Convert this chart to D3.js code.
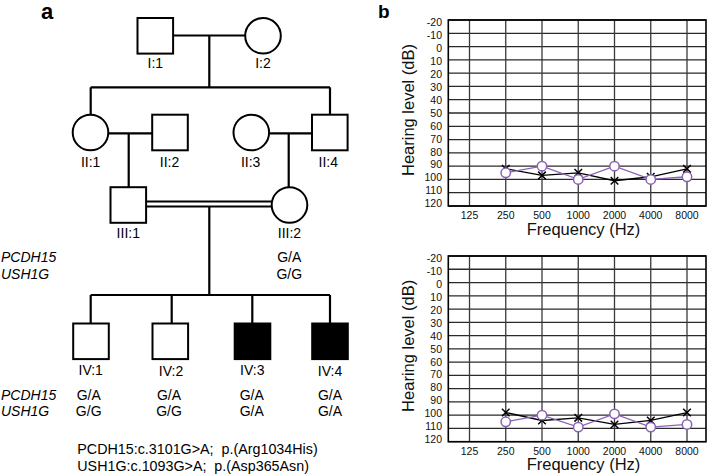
<!DOCTYPE html>
<html><head><meta charset="utf-8">
<script src="https://cdn.jsdelivr.net/npm/d3@7/dist/d3.min.js"></script>
<style>
html,body{margin:0;padding:0;background:#fff;}
svg{display:block;font-family:"Liberation Sans",Arial,sans-serif;}
</style></head>
<body>
<svg id="fig" width="709" height="476"></svg>
<script>
// ---------- DATA ----------
// Pedigree
const pedigreeIds      = ["I:1","I:2","II:1","II:2","II:3","II:4","III:1","III:2","IV:1","IV:2","IV:3","IV:4"];
const pedigreeSex      = ["M","F","F","M","F","M","M","F","M","M","M","M"];
const pedigreeAffected = [0,0,0,0,0,0,0,0,0,0,1,1];
const genotypedIds     = ["III:2","IV:1","IV:2","IV:3","IV:4"];
const genotypePCDH15   = ["G/A","G/A","G/A","G/A","G/A"];
const genotypeUSH1G    = ["G/G","G/G","G/G","G/A","G/A"];
const geneNames        = ["PCDH15","USH1G"];
const variantLines     = ["PCDH15:c.3101G>A;  p.(Arg1034His)","USH1G:c.1093G>A;  p.(Asp365Asn)"];

// Audiograms
const frequencies   = ["125","250","500","1000","2000","4000","8000"];
const dbTicks       = [-20,-10,0,10,20,30,40,50,60,70,80,90,100,110,120];
const testedFreqs   = ["250","500","1000","2000","4000","8000"];
const top_rightEar  = [95, 90, 100, 90, 100, 98];   // purple circles
const top_leftEar   = [92, 97, 95, 101, 98, 92];    // black crosses
const bot_rightEar  = [105, 100, 109, 99, 109, 107];
const bot_leftEar   = [98, 104, 102, 107, 104, 98];

// ---------- LAYOUT (positions only) ----------
const layout = {
  "I:1":[155.3,35.8],"I:2":[263,35.8],
  "II:1":[90.5,132.5],"II:2":[170,132.5],"II:3":[251.3,132.5],"II:4":[329.8,132.5],
  "III:1":[128.3,205],"III:2":[289.5,205],
  "IV:1":[91,341.3],"IV:2":[170.3,341.3],"IV:3":[252.5,341.3],"IV:4":[330,341.3]
};
const half = 17.8;
const svg = d3.select("#fig");
const PURPLE = "#8c62b4";

// ---------- PANEL A : pedigree ----------
const pa = svg.append("g");
function seg(x1,y1,x2,y2){ pa.append("line").attr("x1",x1).attr("y1",y1).attr("x2",x2).attr("y2",y2)
  .attr("stroke","#000").attr("stroke-width",2.2); }
const P = id => layout[id];

// generation I
seg(P("I:1")[0]+half, 35.5, P("I:2")[0]-half, 35.5);
seg(209.3, 35.5, 209.3, 87.3);
seg(90.7, 87.3, 330, 87.3);
seg(90.7, 87.3, 90.7, P("II:1")[1]-half);
seg(330, 87.3, 330, P("II:4")[1]-half);
// generation II couples
seg(P("II:1")[0]+half, 133.3, P("II:2")[0]-half, 133.3);
seg(128.7, 133.3, 128.7, P("III:1")[1]-half);
seg(P("II:3")[0]+half, 133.3, P("II:4")[0]-half, 133.3);
seg(288.7, 133.3, 288.7, P("III:2")[1]-half);
// consanguineous marriage (double line)
pa.append("line").attr("x1",P("III:1")[0]+half).attr("x2",P("III:2")[0]-half).attr("y1",201.6).attr("y2",201.6).attr("stroke","#000").attr("stroke-width",2);
pa.append("line").attr("x1",P("III:1")[0]+half).attr("x2",P("III:2")[0]-half).attr("y1",206.6).attr("y2",206.6).attr("stroke","#000").attr("stroke-width",2);
seg(209.3, 206.6, 209.3, 295);
seg(90.7, 295, 330, 295);
[90.7,171.7,252.3,330].forEach(x=>seg(x,295,x,P("IV:1")[1]-half));

// individuals
pedigreeIds.forEach((id,i)=>{
  const [cx,cy] = P(id);
  const fill = pedigreeAffected[i] ? "#000" : "#fff";
  if (pedigreeSex[i]==="M") {
    pa.append("rect").attr("x",cx-half).attr("y",cy-half).attr("width",2*half).attr("height",2*half)
      .attr("fill",fill).attr("stroke","#000").attr("stroke-width",2);
  } else {
    pa.append("circle").attr("cx",cx).attr("cy",cy).attr("r",half).attr("fill",fill)
      .attr("stroke","#000").attr("stroke-width",2);
  }
  const gen = id.split(":")[0];
  const lblY = {I:68.3, II:166.7, III:238.3, IV:374.5}[gen] + ((id==="IV:2"||id==="IV:4")?1.5:0);
  const lblX = {"II:2":169.5,"II:3":250.7,"II:4":328.3,"IV:2":171,"IV:3":252.3,"IV:4":330,"IV:1":90.7,"II:1":90.7}[id] ?? cx;
  pa.append("text").attr("x",lblX).attr("y",lblY).attr("text-anchor","middle")
    .attr("font-size",14).attr("fill","#000").text(id);
});

// genotype rows
const genoRowY = {"III":[262.2,278.8],"IV":[399.8,416.2]};
const genoX = {"III:2":289.3,"IV:1":88.7,"IV:2":169,"IV:3":251.7,"IV:4":330};
["III","IV"].forEach(g=>{
  geneNames.forEach((gn,k)=>{
    pa.append("text").attr("x",1).attr("y",genoRowY[g][k]).attr("font-size",14)
      .attr("font-style","italic").attr("fill","#000").text(gn);
  });
});
genotypedIds.forEach((id,i)=>{
  const g = id.split(":")[0];
  pa.append("text").attr("x",genoX[id]).attr("y",genoRowY[g][0]).attr("text-anchor","middle").attr("font-size",14).text(genotypePCDH15[i]);
  pa.append("text").attr("x",genoX[id]).attr("y",genoRowY[g][1]).attr("text-anchor","middle").attr("font-size",14).text(genotypeUSH1G[i]);
});
variantLines.forEach((t,k)=>{
  pa.append("text").attr("x",77.3).attr("y",454+k*16.5).attr("font-size",14.3)
    .style("white-space","pre").text(t);
});
svg.append("text").attr("x",41).attr("y",18.5).attr("font-size",22).attr("font-weight","bold").text("a");
svg.append("text").attr("x",378).attr("y",18).attr("font-size",19).attr("font-weight","bold").text("b");

// ---------- PANEL B : audiograms ----------
function audiogram(top, bottom, right, left){
  const L = 448.3, R = 706;
  const g = svg.append("g");
  const x = d3.scalePoint().domain(frequencies).range([469.5, 687]);
  const y = d3.scaleLinear().domain([-20,120]).range([top, bottom]);
  const yl = d3.scaleLinear().domain([-20,120]).range([top+2.6, bottom-2.6]);
  // grid
  g.selectAll("line.h").data(dbTicks).join("line").attr("class","h")
    .attr("x1",L).attr("x2",R).attr("y1",d=>y(d)).attr("y2",d=>y(d))
    .attr("stroke","#2a2a2a").attr("stroke-width",1.3);
  g.selectAll("line.v").data(frequencies).join("line").attr("class","v")
    .attr("x1",d=>x(d)).attr("x2",d=>x(d)).attr("y1",top).attr("y2",bottom)
    .attr("stroke","#3a3a3a").attr("stroke-width",1.3);
  g.append("rect").attr("x",L).attr("y",top).attr("width",R-L).attr("height",bottom-top)
    .attr("fill","none").attr("stroke","#000").attr("stroke-width",1.6);
  // tick labels
  g.selectAll("text.yt").data(dbTicks).join("text").attr("class","yt")
    .attr("x",442).attr("y",d=>yl(d)).attr("dy","0.36em").attr("text-anchor","end")
    .attr("font-size",10.5).attr("fill","#111").text(d=>d);
  g.selectAll("text.xt").data(frequencies).join("text").attr("class","xt")
    .attr("x",d=>x(d)).attr("y",bottom+12.8).attr("text-anchor","middle")
    .attr("font-size",10.5).attr("fill","#111").text(d=>d);
  // axis titles
  g.append("text").attr("transform",`translate(413.5,${(top+bottom)/2-3}) rotate(-90)`)
    .attr("text-anchor","middle").attr("font-size",16.5).attr("fill","#111").text("Hearing level (dB)");
  g.append("text").attr("x",583.5).attr("y",bottom+28.5).attr("text-anchor","middle")
    .attr("font-size",16.5).attr("fill","#111").text("Frequency (Hz)");
  const lineGen = d3.line().x(d=>x(d[0])).y(d=>y(d[1]));
  const lp = testedFreqs.map((f,i)=>[f,left[i]]);
  const rp = testedFreqs.map((f,i)=>[f,right[i]]);
  // left ear (X, black)
  g.append("path").attr("d",lineGen(lp)).attr("fill","none").attr("stroke","#000").attr("stroke-width",1.3);
  const s = 3.8;
  g.selectAll("path.xm").data(lp).join("path").attr("class","xm")
    .attr("d",d=>{const cx=x(d[0]), cy=y(d[1]); return `M${cx-s},${cy-s}L${cx+s},${cy+s}M${cx-s},${cy+s}L${cx+s},${cy-s}`;})
    .attr("stroke","#000").attr("stroke-width",1.5).attr("fill","none");
  // right ear (O, purple)
  g.append("path").attr("d",lineGen(rp)).attr("fill","none").attr("stroke",PURPLE).attr("stroke-width",1.3);
  g.selectAll("circle.om").data(rp).join("circle").attr("class","om")
    .attr("cx",d=>x(d[0])).attr("cy",d=>y(d[1])).attr("r",4.7)
    .attr("fill","#fff").attr("stroke",PURPLE).attr("stroke-width",1.5);
}
audiogram(20, 206, top_rightEar, top_leftEar);
audiogram(256, 441.7, bot_rightEar, bot_leftEar);
</script>
</body></html>
